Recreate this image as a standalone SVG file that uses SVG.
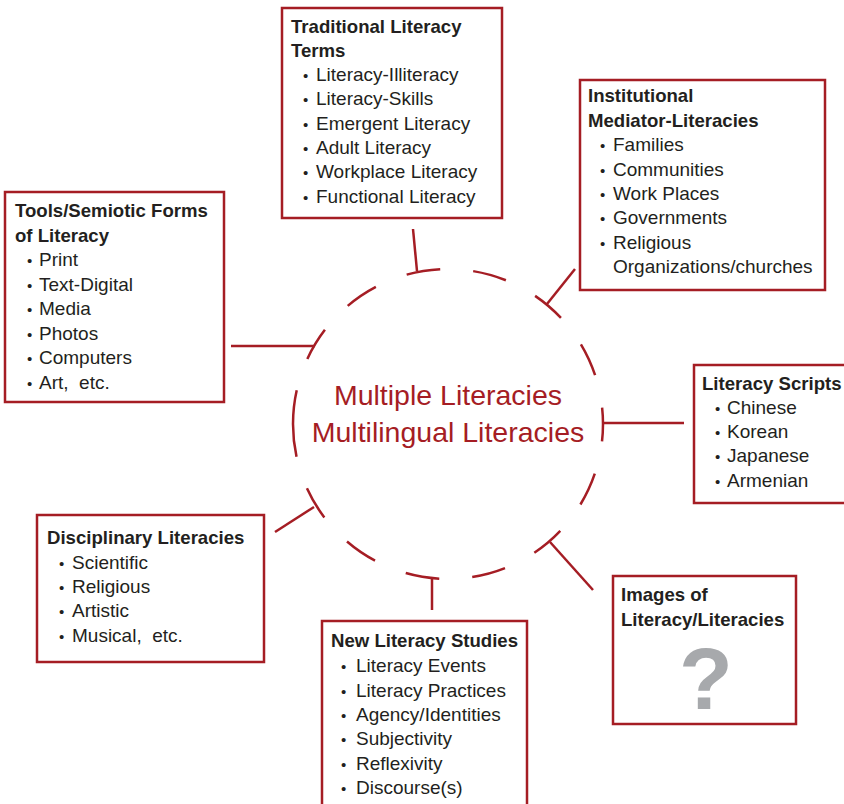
<svg xmlns="http://www.w3.org/2000/svg" width="844" height="804" viewBox="0 0 844 804">
<style>
.box{fill:#fff;stroke:#a51d24;stroke-width:2.5}
.conn{stroke:#a51d24;stroke-width:2.5;fill:none}
text{font-family:"Liberation Sans",Arial,sans-serif;fill:#231f20}
.t{font-size:18.6px;font-weight:bold}
.i{font-size:15px}
.i tspan,.s{font-size:19px}
.c{font-size:28.5px;fill:#a51d24;text-anchor:middle}
.q{font-size:88px;font-weight:bold;fill:#a7a9ac;text-anchor:middle}
</style>
<rect width="844" height="804" fill="#fff"/>
<g id="center">
<path class="conn" d="M293,424 A155,155 0 0 1 603,424 A155,155 0 0 1 293,424" stroke-dasharray="34 33.16"/>
<text class="c" x="448" y="405">Multiple Literacies</text>
<text class="c" x="448" y="442">Multilingual Literacies</text>
</g>
<g id="connectors">
<line class="conn" x1="413" y1="229" x2="417" y2="271"/>
<line class="conn" x1="575" y1="269" x2="547" y2="304"/>
<line class="conn" x1="603" y1="423" x2="684" y2="423"/>
<line class="conn" x1="593" y1="590" x2="550" y2="542"/>
<line class="conn" x1="432" y1="610" x2="432" y2="578"/>
<line class="conn" x1="275" y1="532" x2="314" y2="507"/>
<line class="conn" x1="231" y1="346" x2="315" y2="346"/>
</g>
<g id="tools">
<rect class="box" x="5" y="192" width="219" height="210"/>
<text class="t" x="15" y="217">Tools/Semiotic Forms</text>
<text class="t" x="15" y="242">of Literacy</text>
<text class="i" x="27" y="266">•<tspan x="39">Print</tspan></text>
<text class="i" x="27" y="290.5">•<tspan x="39">Text-Digital</tspan></text>
<text class="i" x="27" y="315">•<tspan x="39">Media</tspan></text>
<text class="i" x="27" y="339.5">•<tspan x="39">Photos</tspan></text>
<text class="i" x="27" y="364">•<tspan x="39">Computers</tspan></text>
<text class="i" x="27" y="388.5">•<tspan x="39">Art,&#160; etc.</tspan></text>
</g>
<g id="traditional">
<rect class="box" x="282" y="8" width="220" height="210"/>
<text class="t" x="291" y="33">Traditional Literacy</text>
<text class="t" x="291" y="57">Terms</text>
<text class="i" x="303" y="81">•<tspan x="316">Literacy-Illiteracy</tspan></text>
<text class="i" x="303" y="105">•<tspan x="316">Literacy-Skills</tspan></text>
<text class="i" x="303" y="129.5">•<tspan x="316">Emergent Literacy</tspan></text>
<text class="i" x="303" y="153.5">•<tspan x="316">Adult Literacy</tspan></text>
<text class="i" x="303" y="178">•<tspan x="316">Workplace Literacy</tspan></text>
<text class="i" x="303" y="202.5">•<tspan x="316">Functional Literacy</tspan></text>
</g>
<g id="institutional">
<rect class="box" x="580" y="80" width="245" height="210"/>
<text class="t" x="588" y="102">Institutional</text>
<text class="t" x="588" y="126.5">Mediator-Literacies</text>
<text class="i" x="600" y="151">•<tspan x="613">Families</tspan></text>
<text class="i" x="600" y="175.5">•<tspan x="613">Communities</tspan></text>
<text class="i" x="600" y="200">•<tspan x="613">Work Places</tspan></text>
<text class="i" x="600" y="224">•<tspan x="613">Governments</tspan></text>
<text class="i" x="600" y="248.5">•<tspan x="613">Religious</tspan></text>
<text class="s" x="613" y="273">Organizations/churches</text>
</g>
<g id="scripts">
<rect class="box" x="694" y="365" width="160" height="138"/>
<text class="t" x="702" y="389.5">Literacy Scripts</text>
<text class="i" x="715" y="413.5">•<tspan x="727">Chinese</tspan></text>
<text class="i" x="715" y="438">•<tspan x="727">Korean</tspan></text>
<text class="i" x="715" y="462">•<tspan x="727">Japanese</tspan></text>
<text class="i" x="715" y="487">•<tspan x="727">Armenian</tspan></text>
</g>
<g id="images">
<rect class="box" x="613" y="576" width="183" height="148"/>
<text class="t" x="621" y="601">Images of</text>
<text class="t" x="621" y="626">Literacy/Literacies</text>
<text class="q" x="706" y="709">?</text>
</g>
<g id="disciplinary">
<rect class="box" x="37" y="515" width="227" height="147"/>
<text class="t" x="47" y="543.5">Disciplinary Literacies</text>
<text class="i" x="59" y="568.5">•<tspan x="72">Scientific</tspan></text>
<text class="i" x="59" y="593">•<tspan x="72">Religious</tspan></text>
<text class="i" x="59" y="617">•<tspan x="72">Artistic</tspan></text>
<text class="i" x="59" y="641.5">•<tspan x="72">Musical,&#160; etc.</tspan></text>
</g>
<g id="nls">
<rect class="box" x="322" y="621" width="205" height="200"/>
<text class="t" x="331" y="647">New Literacy Studies</text>
<text class="i" x="341" y="672">•<tspan x="356">Literacy Events</tspan></text>
<text class="i" x="341" y="696.5">•<tspan x="356">Literacy Practices</tspan></text>
<text class="i" x="341" y="721">•<tspan x="356">Agency/Identities</tspan></text>
<text class="i" x="341" y="745">•<tspan x="356">Subjectivity</tspan></text>
<text class="i" x="341" y="769.5">•<tspan x="356">Reflexivity</tspan></text>
<text class="i" x="341" y="793.5">•<tspan x="356">Discourse(s)</tspan></text>
</g>
</svg>
